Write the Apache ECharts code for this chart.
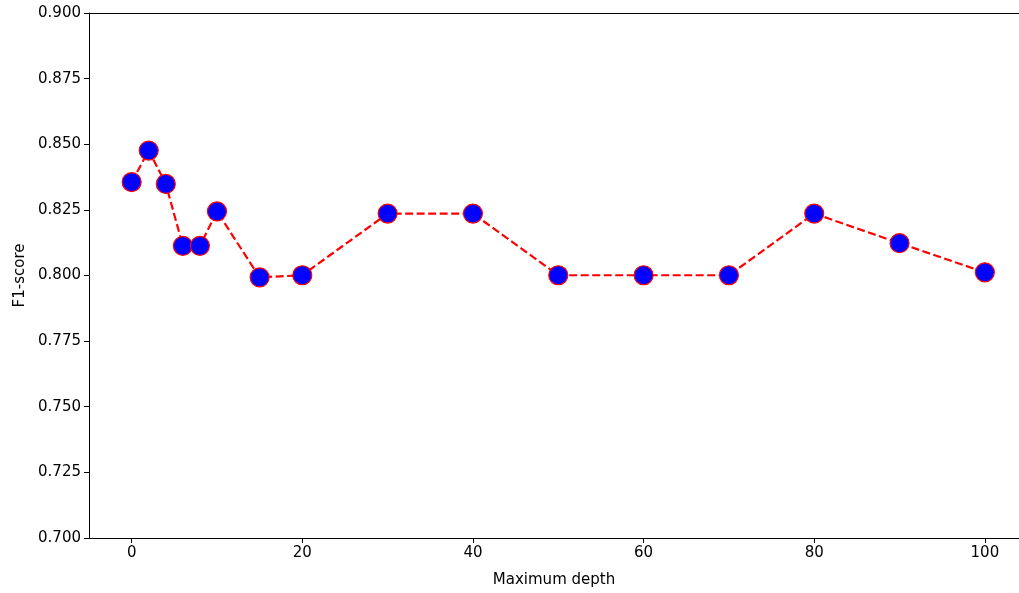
<!DOCTYPE html>
<html>
<head>
<meta charset="utf-8">
<script src="https://cdn.jsdelivr.net/npm/echarts@6/dist/echarts.min.js"></script>
<style>html,body{margin:0;padding:0;background:#fff;}#c{width:1019px;height:593px;}</style>
</head>
<body>
<div id="c"></div>
<script>
const depths = [0, 2, 4, 6, 8, 10, 15, 20, 30, 40, 50, 60, 70, 80, 90, 100];
const f1 = [0.8356, 0.8476, 0.8349, 0.8113, 0.8113, 0.8244, 0.7993, 0.8001, 0.8236, 0.8236, 0.8001, 0.8001, 0.8001, 0.8236, 0.8123, 0.8012];
const xTicks = [0, 20, 40, 60, 80, 100];
const yTicks = [0.700, 0.725, 0.750, 0.775, 0.800, 0.825, 0.850, 0.875, 0.900];

const font = 'DejaVu Sans';
const fs = 15;
const chart = echarts.init(document.getElementById('c'));
chart.setOption({
  animation: false,
  backgroundColor: '#fff',
  grid: {left: 89, top: 13, right: 0, bottom: 54, show: false},
  xAxis: [{
    type: 'value', min: -5, max: 104,
    name: 'Maximum depth', nameLocation: 'middle', nameGap: 35,
    nameTextStyle: {fontFamily: font, fontSize: fs, color: '#000'},
    axisLine: {show: true, onZero: false, lineStyle: {color: '#000', width: 1}},
    axisTick: {show: true, length: 5, lineStyle: {color: '#000'}, customValues: xTicks},
    axisLabel: {fontFamily: font, fontSize: fs, color: '#000', margin: 8, customValues: xTicks, showMinLabel: true, showMaxLabel: true},
    splitLine: {show: false}
  }, {
    type: 'value', min: -5, max: 104, position: 'top',
    axisLine: {show: true, onZero: false, lineStyle: {color: '#000', width: 1}},
    axisTick: {show: false}, axisLabel: {show: false}, splitLine: {show: false}
  }],
  yAxis: {
    type: 'value', min: 0.7, max: 0.9, interval: 0.025,
    name: 'F1-score', nameLocation: 'middle', nameGap: 61,
    nameTextStyle: {fontFamily: font, fontSize: fs, color: '#000'},
    axisLine: {show: true, onZero: false, lineStyle: {color: '#000', width: 1}},
    axisTick: {show: true, length: 5, lineStyle: {color: '#000'}, customValues: yTicks},
    axisLabel: {fontFamily: font, fontSize: fs, color: '#000', margin: 8, customValues: yTicks, formatter: v => v.toFixed(3)},
    splitLine: {show: false}
  },
  series: [{
    type: 'line',
    data: depths.map((d, i) => [d, f1[i]]),
    lineStyle: {color: '#ff0000', width: 2.2, type: [8, 3.5]},
    symbol: 'circle', symbolSize: 19,
    itemStyle: {color: '#0000ff', borderColor: '#ff0000', borderWidth: 1.2},
    z: 3
  }]
});
</script>
</body>
</html>
